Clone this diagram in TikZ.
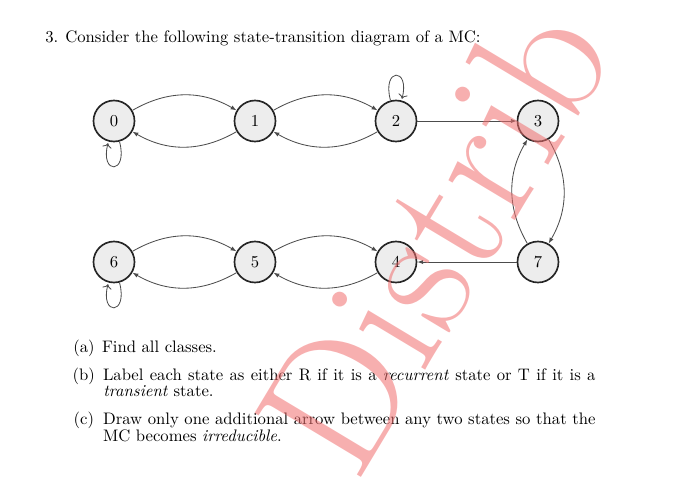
\documentclass[tikz,border=0pt]{standalone}
\usetikzlibrary{arrows.meta}
\definecolor{wmred}{RGB}{240,110,110}
\begin{document}
\begin{tikzpicture}[x=0.6pt,y=-0.6pt,
  state/.style={circle, draw=black!85, line width=1pt, fill=black!7, minimum size=24.6pt, inner sep=0pt, font=\normalsize},
  tr/.style={draw=black!70, line width=0.5pt, -{Latex[length=3.5pt,width=2.6pt]}},
  txt/.style={anchor=base west, inner sep=0pt, font=\normalsize},
  wm/.style={anchor=base west, rotate=59, inner sep=0pt, text=wmred, opacity=0.55, font=\fontsize{109}{109}\selectfont}
]
\useasboundingbox (0,0) rectangle (700,484);
% states
\node[state] (n0) at (114,121) {0};
\node[state] (n1) at (255,121) {1};
\node[state] (n2) at (396,121) {2};
\node[state] (n3) at (538,121) {3};
\node[state] (n6) at (114,262) {6};
\node[state] (n5) at (255,262) {5};
\node[state] (n4) at (396,262) {4};
\node[state] (n7) at (538,262) {7};
% transitions
\draw[tr] (n0) to[bend left=30] (n1);
\draw[tr] (n1) to[bend left=30] (n0);
\draw[tr] (n1) to[bend left=30] (n2);
\draw[tr] (n2) to[bend left=30] (n1);
\draw[tr] (n2) -- (n3);
\draw[tr] (n3) to[bend left=30] (n7);
\draw[tr] (n7) to[bend left=30] (n3);
\draw[tr] (n7) -- (n4);
\draw[tr] (n6) to[bend left=30] (n5);
\draw[tr] (n5) to[bend left=30] (n6);
\draw[tr] (n5) to[bend left=30] (n4);
\draw[tr] (n4) to[bend left=30] (n5);
\path (n0) edge[tr, loop below] ();
\path (n2) edge[tr, loop above] ();
\path (n6) edge[tr, loop below] ();
% text
\node[txt] (t3) at (45,42.7) {3.};
\node[txt] (t0) at (65,42.7) {Consider the following state-transition diagram of a MC:};
\node[txt] (la) at (73,352.7) {(a)};
\node[txt] (ta) at (101.7,352.7) {Find all classes.};
\node[txt] (lb) at (72.3,380) {(b)};
\node[txt] (tb1) at (102.7,380) {\makebox[295.5pt][s]{Label each state as either R if it is a \textit{recurrent} state or T if it is a}};
\node[txt] (tb2) at (103,396.7) {\textit{transient} state.};
\node[txt] (lc) at (73.3,424) {(c)};
\node[txt] (tc1) at (102.7,424) {\makebox[295.5pt][s]{Draw only one additional arrow between any two states so that the}};
\node[txt] (tc2) at (102.7,441) {MC becomes \textit{irreducible}.};
% watermark
\begin{scope}
\clip (0,0) rectangle (700,484);
\node[wm] (wmk) at (356.4,485.6) {Distrib};
\end{scope}
\end{tikzpicture}
\end{document}
